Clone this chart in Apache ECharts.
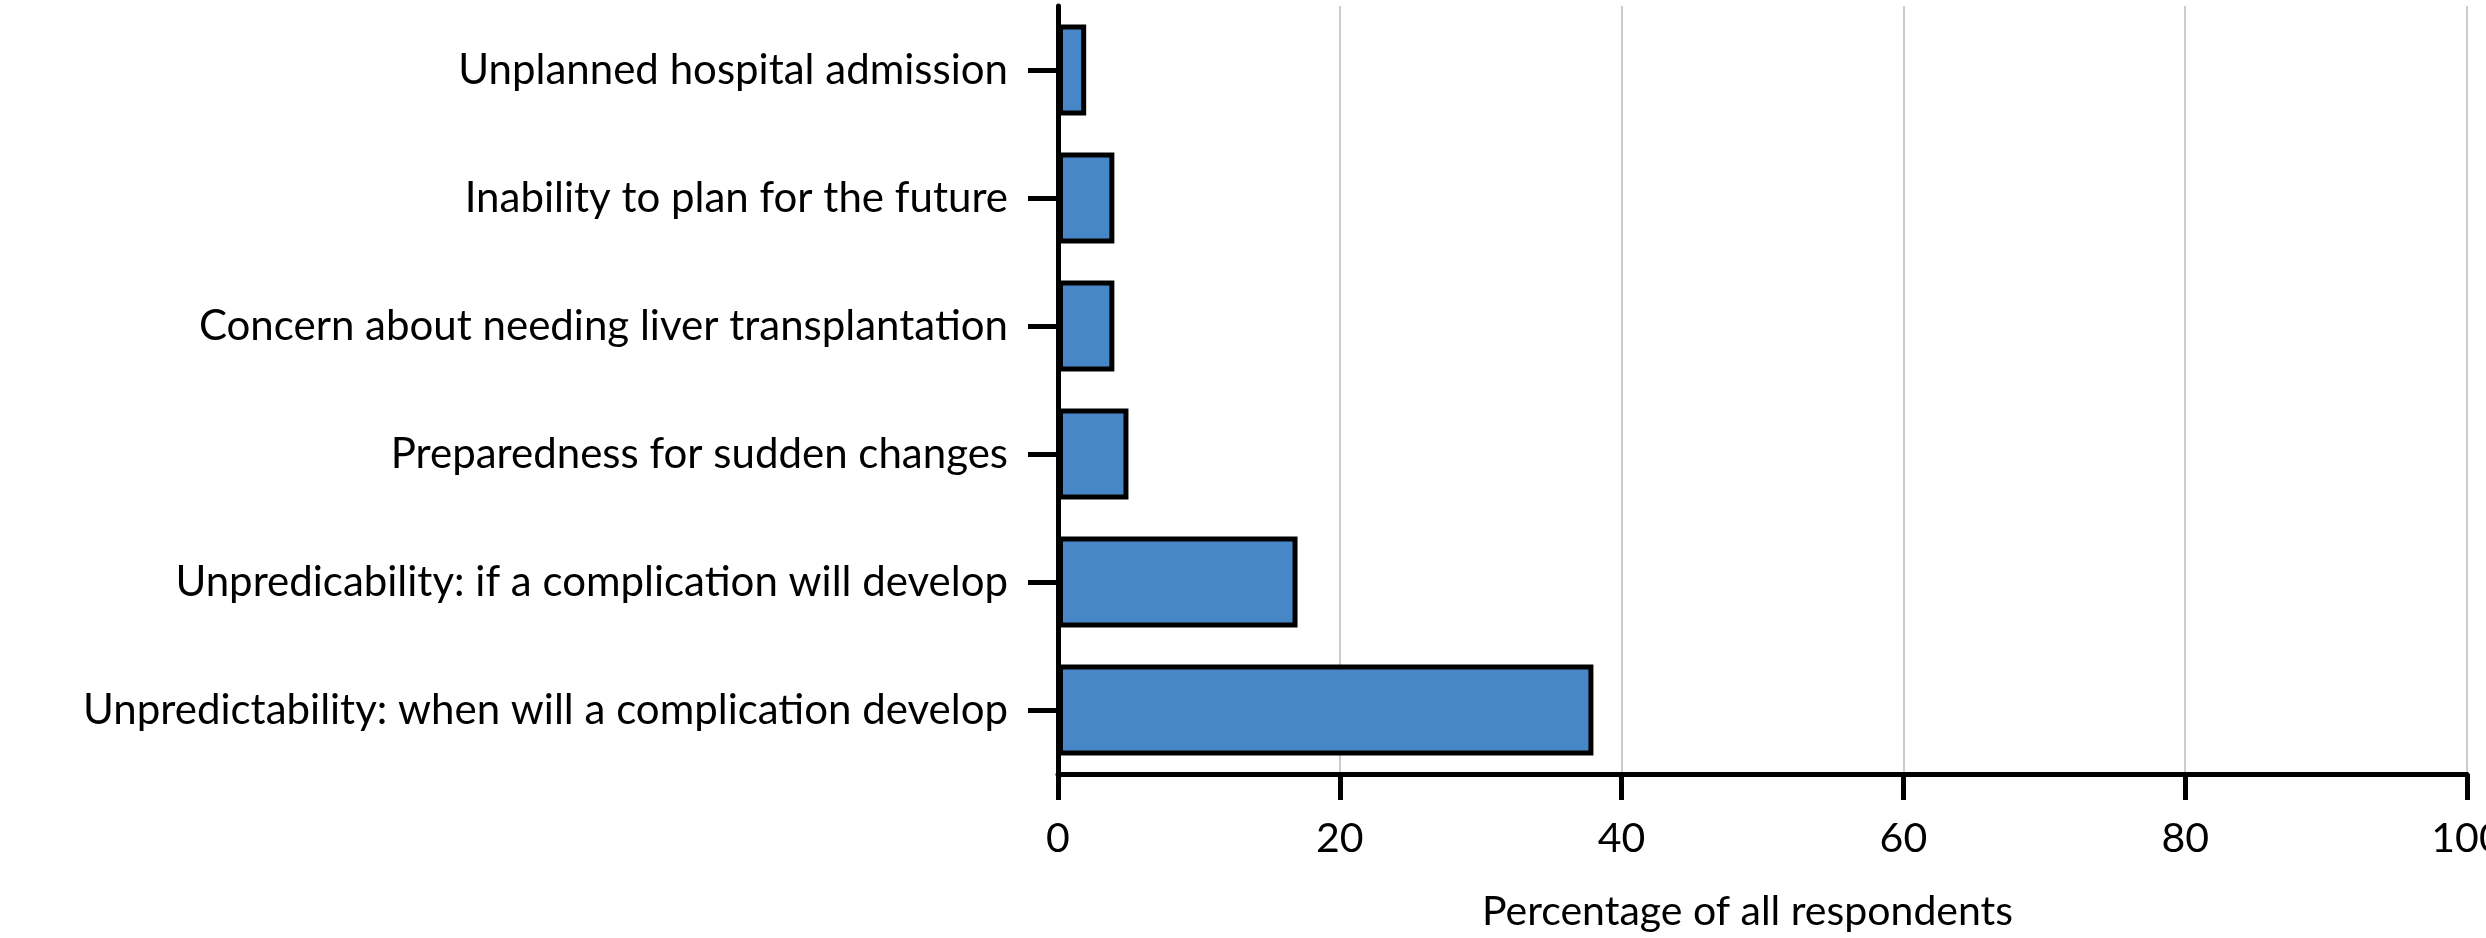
<!DOCTYPE html>
<html>
<head>
<meta charset="utf-8">
<script src="https://cdn.jsdelivr.net/npm/echarts@6/dist/echarts.min.js"></script>
<style>
  html, body { margin: 0; padding: 0; background: #fff; }
  #chart { width: 2486px; height: 938px; }
</style>
</head>
<body>
<div id="chart"></div>
<script>
// Concerns reported by respondents, top to bottom
const categories = [
  'Unplanned hospital admission',
  'Inability to plan for the future',
  'Concern about needing liver transplantation',
  'Preparedness for sudden changes',
  'Unpredicability: if a complication will develop',
  'Unpredictability: when will a complication develop'
];
const percentages = [2, 4, 4, 5, 17, 38];
const xTicks = [0, 20, 40, 60, 80, 100];
const xTitle = 'Percentage of all respondents';

const FONT = 'Lato, "Open Sans", sans-serif';

const chart = echarts.init(document.getElementById('chart'), null, { renderer: 'canvas' });
chart.setOption({
  animation: false,
  backgroundColor: '#ffffff',
  grid: { left: 1058, right: 19, top: 6, bottom: 164, containLabel: false, outerBoundsMode: 'none' },
  xAxis: {
    type: 'value',
    min: xTicks[0],
    max: xTicks[xTicks.length - 1],
    interval: xTicks[1] - xTicks[0],
    name: xTitle,
    nameLocation: 'middle',
    nameGap: 117,
    nameTextStyle: { fontFamily: FONT, fontSize: 41, color: '#000', padding: [0, 30, 0, 0] },
    axisLine: { show: true, onZero: false, lineStyle: { color: '#000', width: 5 } },
    axisTick: { show: true, length: 26, lineStyle: { color: '#000', width: 5 } },
    axisLabel: { fontFamily: FONT, fontSize: 41, color: '#000', margin: 44 },
    splitLine: { show: true, lineStyle: { color: '#cccccc', width: 2 } }
  },
  yAxis: {
    type: 'category',
    data: categories,
    inverse: true,
    axisLine: { show: true, lineStyle: { color: '#000', width: 5 } },
    axisTick: { show: true, alignWithLabel: true, length: 30, lineStyle: { color: '#000', width: 5 } },
    axisLabel: { fontFamily: FONT, fontSize: 42, color: '#000', margin: 50 },
    splitLine: { show: false }
  },
  series: [{
    type: 'bar',
    data: percentages,
    barWidth: '71%',
    itemStyle: { color: '#4787c7', borderColor: '#000', borderWidth: 5 }
  }]
});
</script>
</body>
</html>
